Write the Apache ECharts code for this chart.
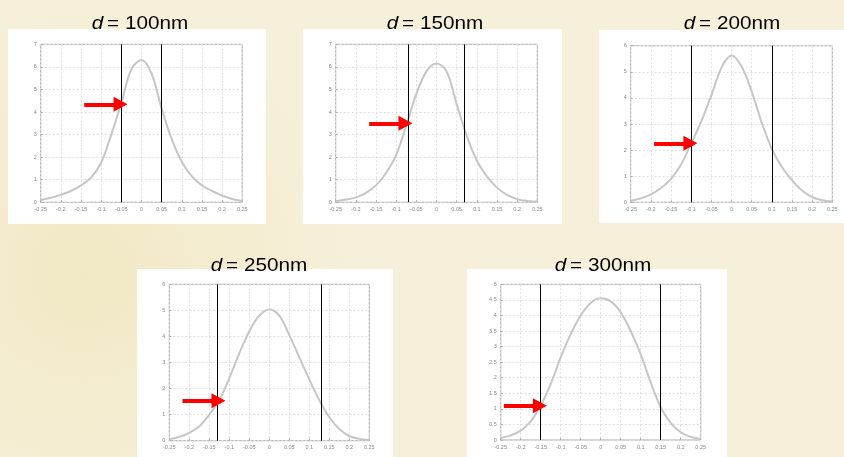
<!DOCTYPE html>
<html>
<head>
<meta charset="utf-8">
<script src="https://cdn.jsdelivr.net/npm/echarts@6/dist/echarts.min.js"></script>
<style>
html,body{margin:0;padding:0;background:#F5EFD6;}
#c{width:844px;height:457px;}
</style>
</head>
<body>
<div id="c"></div>
<script>
// ---- data ----
const xValues = [-0.25,-0.225,-0.2,-0.175,-0.15,-0.125,-0.1,-0.075,-0.05,-0.025,0,0.025,0.05,0.075,0.1,0.125,0.15,0.175,0.2,0.225,0.25];
const titles = ['100nm','150nm','200nm','250nm','300nm'];
const y100 = [0.1,0.2,0.33,0.5,0.75,1.1,1.75,3.0,4.4,5.9,6.3,5.7,4.15,2.8,1.8,1.15,0.75,0.5,0.3,0.15,0.06];
const y150 = [0.05,0.12,0.22,0.42,0.75,1.3,2.1,3.4,4.8,5.8,6.15,5.8,4.35,2.95,1.85,1.15,0.65,0.33,0.14,0.06,0.03];
const y200 = [0.06,0.15,0.3,0.55,0.9,1.45,2.25,3.1,4.1,5.15,5.62,5.2,4.25,3.05,2.05,1.35,0.85,0.45,0.2,0.08,0.03];
const y250 = [0.05,0.15,0.3,0.55,1.0,1.55,2.4,3.35,4.2,4.8,5.03,4.8,4.05,3.2,2.35,1.55,0.9,0.45,0.18,0.07,0.03];
const y300 = [0.06,0.15,0.3,0.6,1.1,1.8,2.65,3.4,4.0,4.4,4.55,4.45,4.1,3.5,2.75,1.85,1.05,0.55,0.25,0.1,0.03];
const curves = [y100,y150,y200,y250,y300];
const lineX = [0.05,0.075,0.1,0.125,0.15];      // vertical lines at ±lineX
const arrowY = [4.34,3.5,2.26,1.53,1.1];        // where the arrow meets the left line
const yMax = [7,7,6,6,5];
const yStep = [1,1,1,1,0.5];

// ---- layout ----
const grids = [
  {left:40.7, top:44.3, width:201.6, height:158},
  {left:335.7, top:44.3, width:201.6, height:158},
  {left:630.7, top:45.7, width:201.6, height:156.6},
  {left:169.3, top:284.3, width:200, height:156.4},
  {left:500.7, top:284.3, width:200, height:155.7}
];
const boxes = [
  {x:8, y:29, width:258, height:195},
  {x:303, y:29, width:259, height:195},
  {x:599, y:30, width:245, height:193},
  {x:137, y:269, width:256, height:188},
  {x:467, y:269, width:260, height:188}
];
const titlePos = [[140,24],[435,24],[732,24],[259,266],[603,266]];

const font = '"Liberation Sans", Arial, sans-serif';
const chart = echarts.init(document.getElementById('c'));

const xAxis = [], yAxis = [], series = [], graphic = [];
grids.forEach((g, i) => {
  g.show = true; g.borderColor = '#a8a8a8'; g.borderWidth = 1; g.backgroundColor = '#fff';
  xAxis.push({
    type:'value', gridIndex:i, min:-0.25, max:0.25, interval:0.05,
    axisLine:{show:false, onZero:false}, axisTick:{show:true, inside:true, length:2, lineStyle:{color:'#aaa'}},
    axisLabel:{fontSize:5.5, color:'#888', margin:4, fontFamily:font},
    splitLine:{show:true, lineStyle:{color:'#dedede', type:[2,2], width:1}}
  });
  yAxis.push({
    type:'value', gridIndex:i, min:0, max:yMax[i], interval:yStep[i],
    axisLine:{show:false, onZero:false}, axisTick:{show:true, inside:true, length:2, lineStyle:{color:'#aaa'}},
    axisLabel:{fontSize:5.5, color:'#888', margin:4, fontFamily:font},
    splitLine:{show:true, lineStyle:{color:'#dedede', type:[2,2], width:1}}
  });
  series.push({
    type:'line', xAxisIndex:i, yAxisIndex:i, smooth:0.35, symbol:'none',
    data: xValues.map((x, k) => [x, curves[i][k]]),
    lineStyle:{color:'#c6c6c6', width:2},
    z:2,
    markLine:{
      silent:true, animation:false, z:5,
      symbol:['none','none'],
      label:{show:false},
      data:[
        {xAxis:-lineX[i], lineStyle:{color:'#000', width:1, type:'solid'}},
        {xAxis:lineX[i], lineStyle:{color:'#000', width:1, type:'solid'}},
        [
          {coord:[-lineX[i]-0.092, arrowY[i]], symbol:'none', lineStyle:{color:'#ff0000', width:4, type:'solid'}},
          {coord:[-lineX[i]-0.002, arrowY[i]], symbol:'triangle', symbolSize:[15,14]}
        ]
      ],
      itemStyle:{color:'#ff0000'},
      lineStyle:{color:'#000', width:1, type:'solid'}
    }
  });
  graphic.push({type:'rect', shape:boxes[i], style:{fill:'#fff'}, z:-10});
  graphic.push({
    type:'text', x:titlePos[i][0], y:titlePos[i][1], z:100, scaleX:1.15,
    style:{
      text:'{i|d} {n|= ' + titles[i] + '}',
      align:'center', verticalAlign:'middle',
      rich:{
        i:{fontStyle:'italic', fontSize:18, fontFamily:font, fill:'#000'},
        n:{fontSize:18, fontFamily:font, fill:'#000'}
      }
    }
  });
});

// soft decorative background shading
graphic.unshift({
  type:'rect', shape:{x:0,y:0,width:844,height:457}, z:-20,
  style:{fill:{type:'radial', x:0.1, y:0.6, r:0.6,
    colorStops:[{offset:0,color:'#F1E8C4'},{offset:1,color:'#F6F0DA'}]}}
});

chart.setOption({
  animation:false,
  backgroundColor:'#F5EFD6',
  grid:grids, xAxis:xAxis, yAxis:yAxis, series:series, graphic:graphic
});
</script>
</body>
</html>
